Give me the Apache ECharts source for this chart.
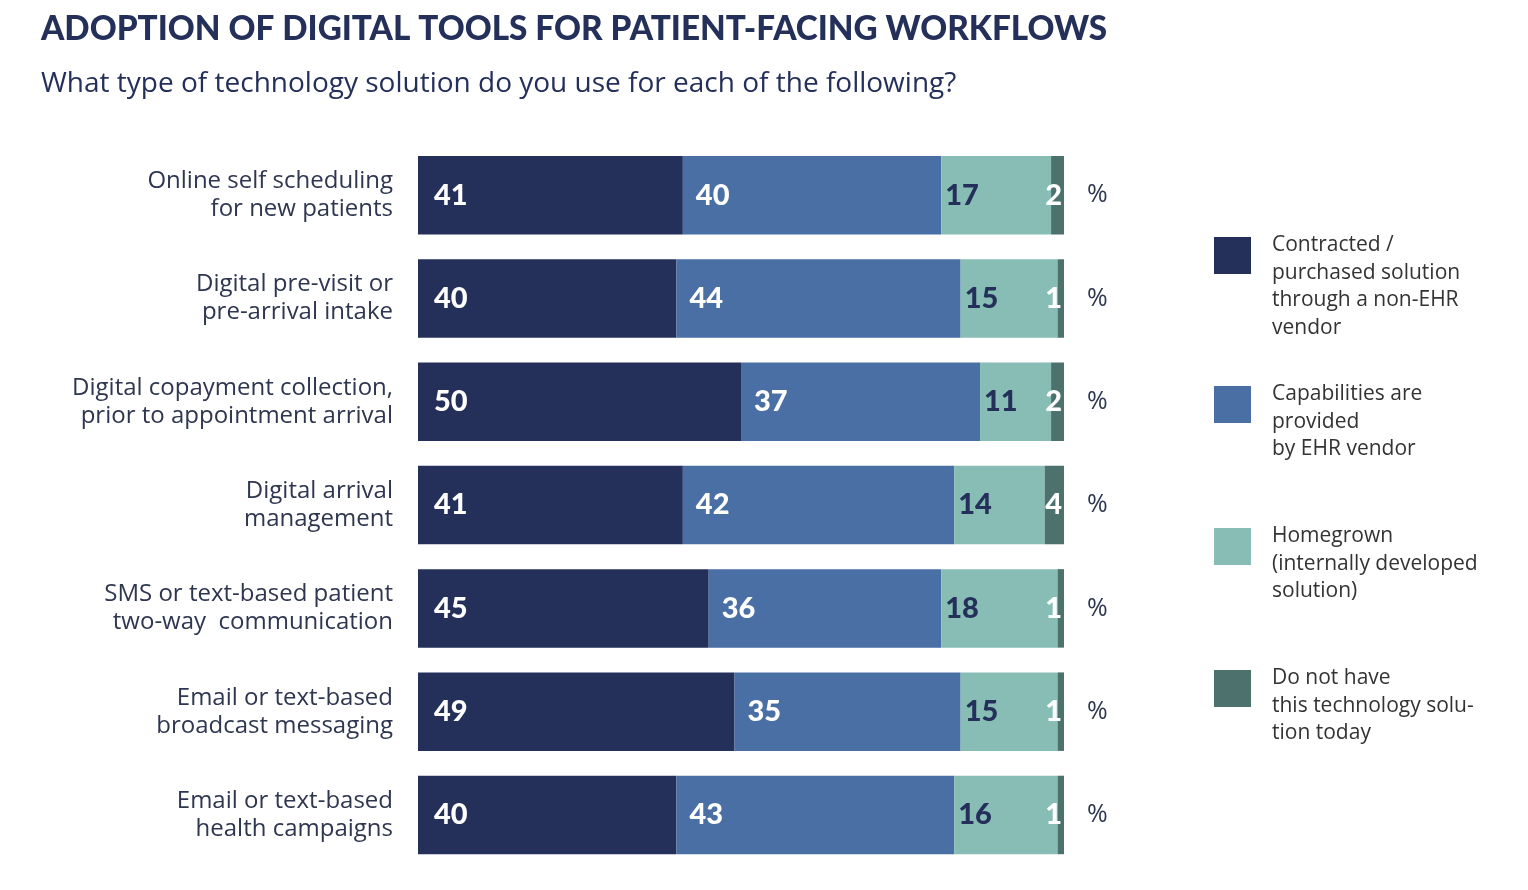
<!DOCTYPE html>
<html><head><meta charset="utf-8">
<script src="https://cdn.jsdelivr.net/npm/echarts@6/dist/echarts.min.js"></script>
<style>html,body{margin:0;padding:0;background:#fff}#c{width:1528px;height:890px}</style>
</head><body><div id="c"></div>
<script>
const categories = [
  "Online self scheduling\nfor new patients",
  "Digital pre-visit or\npre-arrival intake",
  "Digital copayment collection,\nprior to appointment arrival",
  "Digital arrival\nmanagement",
  "SMS or text-based patient\ntwo-way  communication",
  "Email or text-based\nbroadcast messaging",
  "Email or text-based\nhealth campaigns"
];
const seriesNames = [
  "Contracted /\npurchased solution\nthrough a non-EHR\nvendor",
  "Capabilities are\nprovided\nby EHR vendor",
  "Homegrown\n(internally developed\nsolution)",
  "Do not have\nthis technology solu-\ntion today"
];
const contracted = [41, 40, 50, 41, 45, 49, 40];
const ehrVendor  = [40, 44, 37, 42, 36, 35, 43];
const homegrown  = [17, 15, 11, 14, 18, 15, 16];
const notHave    = [2, 1, 2, 4, 1, 1, 1];
const unitLabels = ["%", "%", "%", "%", "%", "%", "%"];

const colors = ["#24305a", "#4a6fa5", "#87bdb5", "#4d726e"];
const labelColors = ["#ffffff", "#ffffff", "#24305a", "#ffffff"];
const titleFont = "Lato";
const textFont = "Open Sans";
const allData = [contracted, ehrVendor, homegrown, notHave];
const labelPos = ["insideLeft", "insideLeft", "insideLeft", "insideRight"];
const labelDist = [16, 13, 4, 2];

const series = allData.map((d, i) => ({
  name: seriesNames[i],
  type: "bar",
  stack: "total",
  data: d,
  barCategoryGap: "24%",
  itemStyle: { color: colors[i] },
  label: {
    show: true,
    position: labelPos[i],
    distance: labelDist[i],
    color: labelColors[i],
    fontFamily: titleFont,
    fontWeight: 900,
    fontSize: 29
  },
  emphasis: { disabled: true }
}));

// legend drawn as graphic so that each swatch aligns with the first text line
const legendTops = [237, 386, 528, 670];
const legendGraphics = [];
seriesNames.forEach((n, i) => {
  legendGraphics.push({
    type: "rect", left: 1214, top: legendTops[i],
    shape: { width: 37, height: 37 },
    style: { fill: colors[i] }
  });
  legendGraphics.push({
    type: "text", left: 1272, top: legendTops[i] - 6,
    style: { text: n, fontFamily: textFont, fontSize: 21, lineHeight: 27.7, fill: "#333333" }
  });
});

const chart = echarts.init(document.getElementById("c"));
chart.setOption({
  animation: false,
  title: [
    { text: "ADOPTION OF DIGITAL TOOLS FOR PATIENT-FACING WORKFLOWS", left: 41, top: 13, padding: 0,
      textStyle: { fontFamily: titleFont, fontWeight: 900, fontSize: 33.3, color: "#24305a" } },
    { text: "What type of technology solution do you use for each of the following?", left: 41, top: 70, padding: 0,
      textStyle: { fontFamily: textFont, fontWeight: 500, fontSize: 28, color: "#24305a" } }
  ],
  graphic: legendGraphics,
  grid: { left: 418, right: 1528 - 1064, top: 143.6, bottom: 23.4, containLabel: false },
  xAxis: { type: "value", min: 0, max: 100, show: false },
  yAxis: [
    { type: "category", data: categories, inverse: true,
      axisLine: { show: false }, axisTick: { show: false },
      axisLabel: { margin: 25, fontFamily: textFont, fontSize: 24, lineHeight: 28, color: "#2e3650", align: "right", padding: [4, 0, 0, 0] } },
    { type: "category", data: unitLabels, inverse: true, position: "right",
      axisLine: { show: false }, axisTick: { show: false },
      axisLabel: { margin: 23, fontFamily: textFont, fontSize: 25, color: "#2e3650", padding: [3, 0, 0, 0] } }
  ],
  series: series
});
</script></body></html>
